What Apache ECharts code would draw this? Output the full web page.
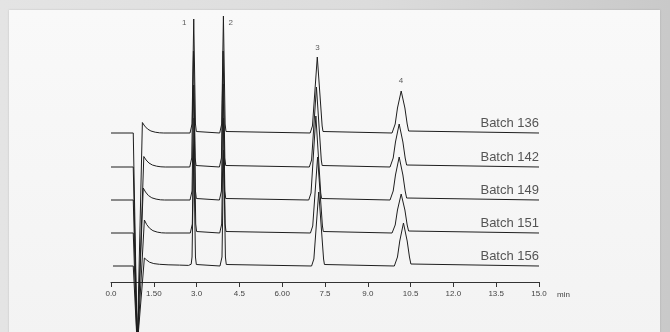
<!DOCTYPE html>
<html>
<head>
<meta charset="utf-8">
<script src="https://cdn.jsdelivr.net/npm/echarts@6/dist/echarts.min.js"></script>
<style>
  html, body { margin: 0; padding: 0; }
  body {
    width: 670px; height: 332px; position: relative; overflow: hidden;
    background: linear-gradient(to right, #e4e4e4 0%, #dcdcdc 55%, #c9c9c9 100%);
  }
  #panel {
    position: absolute; left: 9px; top: 10px; width: 651px; height: 330px;
    background: linear-gradient(#f9f9f9, #f3f3f3);
    box-shadow: 0 0 2px rgba(0,0,0,0.15);
  }
  #chart { position: absolute; left: 0; top: 0; width: 670px; height: 332px; }
</style>
</head>
<body>
<div id="panel"></div>
<div id="chart"></div>
<script>
// retention time (min) / signal pairs, baseline = 0
const batch136 = [[0,0],[0.78,0],[0.92,-215],[1.1,10.5],[1.18,7],[1.28,4],[1.4,2],[1.55,0.8],[1.7,0.2],[1.85,0],
  [2.77,0],[2.81,1.5],[2.84,9],[2.90,114],[2.96,9],[2.99,1.5],[3.03,0],
  [3.81,0],[3.85,1.5],[3.88,9],[3.94,117],[4.00,9],[4.03,1.5],[4.07,0],
  [6.98,0],[7.03,1.5],[7.06,7],[7.23,76],[7.40,7],[7.43,1.5],[7.48,0],
  [9.85,0],[9.91,2],[9.96,9],[10.04,25],[10.17,42],[10.30,25],[10.38,9],[10.43,2],[10.49,0],[15,0]]
const batch142 = [[0,0],[0.78,0],[0.92,-180],[1.15,10.5],[1.23,7],[1.33,4],[1.45,2],[1.6,0.8],[1.75,0.2],[1.9,0],
  [2.76,0],[2.80,1.5],[2.83,9],[2.89,116],[2.95,9],[2.98,1.5],[3.02,0],
  [3.80,0],[3.84,1.5],[3.87,9],[3.93,116],[3.99,9],[4.02,1.5],[4.06,0],
  [6.95,0],[7.00,1.5],[7.03,7],[7.20,80],[7.37,7],[7.40,1.5],[7.45,0],
  [9.78,0],[9.84,2],[9.89,9],[9.97,25],[10.10,43],[10.23,25],[10.31,9],[10.36,2],[10.42,0],[15,0]]
const batch149 = [[0,0],[0.78,0],[0.92,-145],[1.13,12],[1.21,8],[1.31,4.5],[1.43,2.2],[1.58,0.9],[1.73,0.2],[1.88,0],
  [2.77,0],[2.81,1.5],[2.84,9],[2.90,115],[2.96,9],[2.99,1.5],[3.03,0],
  [3.80,0],[3.84,1.5],[3.87,9],[3.93,116],[3.99,9],[4.02,1.5],[4.06,0],
  [6.93,0],[6.98,1.5],[7.01,7],[7.18,84],[7.35,7],[7.38,1.5],[7.43,0],
  [9.78,0],[9.84,2],[9.89,9],[9.97,25],[10.10,43],[10.23,25],[10.31,9],[10.36,2],[10.42,0],[15,0]]
const batch151 = [[0,0],[0.78,0],[0.92,-115],[1.17,13],[1.25,8.5],[1.35,4.8],[1.47,2.3],[1.62,0.9],[1.77,0.2],[1.92,0],
  [2.78,0],[2.82,1.5],[2.85,9],[2.91,115],[2.97,9],[3.00,1.5],[3.04,0],
  [3.81,0],[3.85,1.5],[3.88,9],[3.94,115],[4.00,9],[4.03,1.5],[4.07,0],
  [6.99,0],[7.04,1.5],[7.07,7],[7.24,76],[7.41,7],[7.44,1.5],[7.49,0],
  [9.85,0],[9.91,2],[9.96,8],[10.04,23],[10.17,39],[10.30,23],[10.38,8],[10.43,2],[10.49,0],[15,0]]
const batch156 = [[0.07,0],[0.78,0],[0.92,-80],[1.17,8],[1.25,6],[1.35,3.8],[1.5,2.4],[1.7,1.7],[2.0,1.2],[2.4,0.9],[2.72,0.6],
  [2.77,0.5],[2.81,1.8],[2.84,9],[2.90,114],[2.96,9],[2.99,1.5],[3.03,0],
  [3.82,0],[3.86,1.5],[3.89,9],[3.95,116],[4.01,9],[4.04,1.5],[4.08,0],
  [7.03,0],[7.08,1.5],[7.11,7],[7.28,74],[7.45,7],[7.48,1.5],[7.53,0],
  [9.93,0],[9.99,2],[10.04,9],[10.12,25],[10.25,43],[10.38,25],[10.46,9],[10.51,2],[10.57,0],[15,0]]

const batchNames = ['Batch 136', 'Batch 142', 'Batch 149', 'Batch 151', 'Batch 156']
const batchTraces = [batch136, batch142, batch149, batch151, batch156]
const batchOffsets = [149, 115, 82, 49, 16]

const peakNames = ['1', '2', '3', '4']
const tickLabels = ['0.0', '1.50', '3.0', '4.5', '6.00', '7.5', '9.0', '10.5', '12.0', '13.5', '15.0']

const font = '"Liberation Sans", Arial, sans-serif'
const lineColor = '#1e1e1e'

const traceSeries = batchTraces.map((trace, i) => ({
  name: batchNames[i],
  type: 'line',
  symbol: 'none',
  silent: true,
  clip: false,
  lineStyle: { color: lineColor, width: 1 },
  data: trace.map(([t, v]) => [t, v + batchOffsets[i]])
}))

const option = {
  animation: false,
  grid: { left: 111, right: 131, top: 10, bottom: 50, outerBoundsMode: 'none', containLabel: false },
  xAxis: {
    type: 'value',
    min: 0, max: 15, interval: 1.5,
    name: 'min',
    nameLocation: 'end',
    nameGap: 18,
    nameTextStyle: { fontSize: 8, color: '#444', fontFamily: font, verticalAlign: 'top', padding: [9, 0, 0, 0] },
    axisLine: { lineStyle: { color: '#333', width: 1 } },
    axisTick: { show: true, length: 5, lineStyle: { color: '#333' } },
    axisLabel: {
      fontSize: 8, color: '#444', fontFamily: font, margin: 8,
      formatter: v => tickLabels[Math.round(v / 1.5)]
    },
    splitLine: { show: false }
  },
  yAxis: { type: 'value', min: 0, max: 272, show: false, splitLine: { show: false } },
  series: [
    ...traceSeries,
    {
      type: 'scatter',
      symbolSize: 1,
      silent: true,
      itemStyle: { color: 'rgba(0,0,0,0)' },
      label: {
        show: true, position: 'top', align: 'right', distance: 3,
        formatter: '{b}', fontSize: 13, color: '#2a2a2a', fontFamily: font
      },
      data: batchNames.map((n, i) => ({ name: n, value: [15, batchOffsets[i]] }))
    },
    {
      type: 'scatter',
      symbolSize: 1,
      silent: true,
      itemStyle: { color: 'rgba(0,0,0,0)' },
      label: {
        show: true, position: 'inside', formatter: '{b}',
        fontSize: 8, color: '#333', fontFamily: font
      },
      data: [
        { name: peakNames[0], value: [2.57, 259] },
        { name: peakNames[1], value: [4.2, 259] },
        { name: peakNames[2], value: [7.24, 234] },
        { name: peakNames[3], value: [10.16, 201] }
      ]
    }
  ]
}

const chart = echarts.init(document.getElementById('chart'))
chart.setOption(option)
</script>
</body>
</html>
